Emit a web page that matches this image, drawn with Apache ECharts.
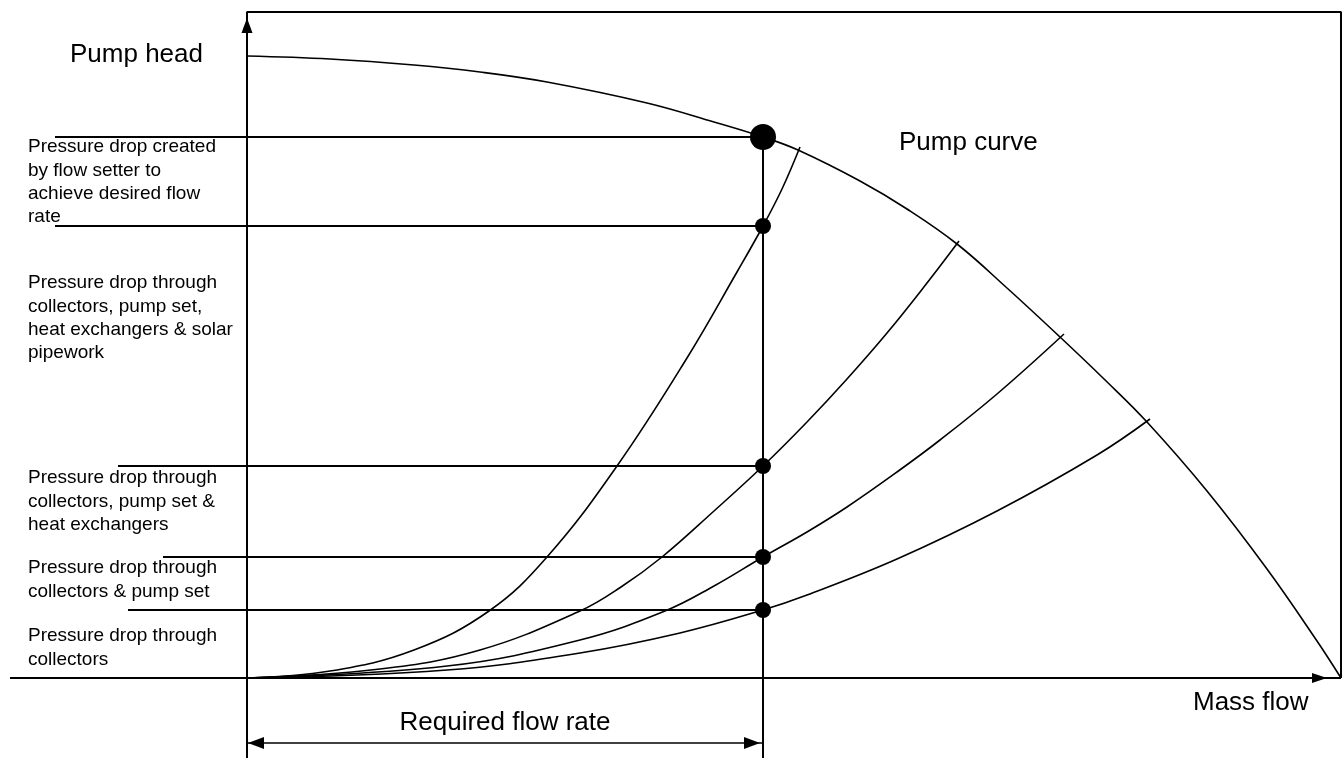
<!DOCTYPE html>
<html>
<head>
<meta charset="utf-8">
<script src="https://cdn.jsdelivr.net/npm/echarts@6/dist/echarts.min.js"></script>
<style>
html,body{margin:0;padding:0;background:#fff;}
#chart{width:1343px;height:758px;}
</style>
</head>
<body>
<div id="chart"></div>
<script>
// ---- data (flow, head) in arbitrary schematic units ----
const pumpCurve = [[0,622],[83,619],[167,613],[233,606],[300,596],[400,575],[467,556],[516,541],[551,528],[613,497],[660,469],[710,434],[760,390],[813,341],[856,300],[900,256],[960,187],[1020,109],[1070,37],[1094,0]];
const systemCurve1 = [[0,0],[83,7],[167,28],[242,67],[300,121],[370,212],[440,320],[490,406],[516,452],[535,489],[553,531]];
const systemCurve2 = [[0,0],[133,9],[233,28],[333,67],[374,91],[415,121],[467,167],[516,212],[560,256],[600,299],[640,345],[680,395],[712,437]];
const systemCurve3 = [[0,0],[200,12],[333,38],[418,67],[467,92],[516,121],[560,146],[600,171],[650,206],[693,238],[750,284],[817,344]];
const systemCurve4 = [[0,0],[200,8],[333,25],[433,45],[516,68],[560,83],[650,119],[750,167],[850,223],[903,259]];
const requiredFlow = 516;
const dutyHeads = [541, 452, 212, 121, 68];
const leaderStarts = [-192, -192, -129, -84, -119];
const axisFlowMin = -247, axisFlowMax = 1096, axisHeadMin = -80, axisHeadMax = 678;
const frameHead = 666, frameFlow = 1094, xAxisStart = -237, dimHead = -65;

const labels = [
  {text:'Pressure drop created\nby flow setter to\nachieve desired flow\nrate', top:135.5},
  {text:'Pressure drop through\ncollectors, pump set,\nheat exchangers & solar\npipework', top:271.5},
  {text:'Pressure drop through\ncollectors, pump set &\nheat exchangers', top:466.5},
  {text:'Pressure drop through\ncollectors & pump set', top:556.5},
  {text:'Pressure drop through\ncollectors', top:624.5}
];

const FONT = '"Liberation Sans", Arial, Helvetica, sans-serif';
const BLACK = '#000';

function lineSeries(data, width, z) {
  return {type:'line', data:data, symbol:'none', silent:true, clip:false, z:z||2,
    lineStyle:{color:BLACK, width:width}};
}
function curveSeries(data) {
  const s = lineSeries(data, 1.6, 3);
  s.smooth = 0.4;
  return s;
}

const series = [];
// frame: y axis + top border + right border
series.push(lineSeries([[0,axisHeadMin],[0,frameHead],[frameFlow,frameHead],[frameFlow,0]], 2));
// x axis
series.push(lineSeries([[xAxisStart,0],[frameFlow,0]], 2));
// required flow vertical line
series.push(lineSeries([[requiredFlow,dutyHeads[0]],[requiredFlow,axisHeadMin]], 2));
// leader lines
dutyHeads.forEach((h,i)=>series.push(lineSeries([[leaderStarts[i],h],[requiredFlow,h]], 2)));
// dimension line
series.push(lineSeries([[0,dimHead],[requiredFlow,dimHead]], 1.6));
// curves
[pumpCurve, systemCurve1, systemCurve2, systemCurve3, systemCurve4].forEach(c=>series.push(curveSeries(c)));
// arrows
series.push({type:'scatter', silent:true, z:5, itemStyle:{color:BLACK, opacity:1},
  data:[
    {value:[0,652.5], symbol:'triangle', symbolSize:[11,15], symbolRotate:0},
    {value:[1072.5,0], symbol:'triangle', symbolSize:[10,15], symbolRotate:-90},
    {value:[9,dimHead], symbol:'triangle', symbolSize:[12,16], symbolRotate:90},
    {value:[505,dimHead], symbol:'triangle', symbolSize:[12,16], symbolRotate:-90}
  ]});
// duty points
series.push({type:'scatter', silent:true, z:6, symbol:'circle', itemStyle:{color:BLACK, opacity:1},
  data:dutyHeads.map((h,i)=>({value:[requiredFlow,h], symbolSize: i===0 ? 26 : 16}))});

const graphic = [
  {type:'text', x:70, y:55, style:{text:'Pump head', font:'26px '+FONT, fill:BLACK, align:'left', verticalAlign:'middle'}},
  {type:'text', x:899, y:143, style:{text:'Pump curve', font:'26px '+FONT, fill:BLACK, align:'left', verticalAlign:'middle'}},
  {type:'text', x:1193, y:703, style:{text:'Mass flow', font:'26px '+FONT, fill:BLACK, align:'left', verticalAlign:'middle'}},
  {type:'text', x:505, y:723, style:{text:'Required flow rate', font:'26px '+FONT, fill:BLACK, align:'center', verticalAlign:'middle'}}
];
labels.forEach(l=>graphic.push({type:'text', x:28, y:l.top,
  style:{text:l.text, font:'19px '+FONT, lineHeight:23.3, fill:BLACK, align:'left', verticalAlign:'top'}}));

const chart = echarts.init(document.getElementById('chart'), null, {renderer:'canvas'});
chart.setOption({
  animation:false,
  backgroundColor:'#fff',
  grid:{left:0,right:0,top:0,bottom:0,containLabel:false},
  xAxis:{type:'value', min:axisFlowMin, max:axisFlowMax, show:false},
  yAxis:{type:'value', min:axisHeadMin, max:axisHeadMax, show:false},
  series:series,
  graphic:graphic
});
</script>
</body>
</html>
